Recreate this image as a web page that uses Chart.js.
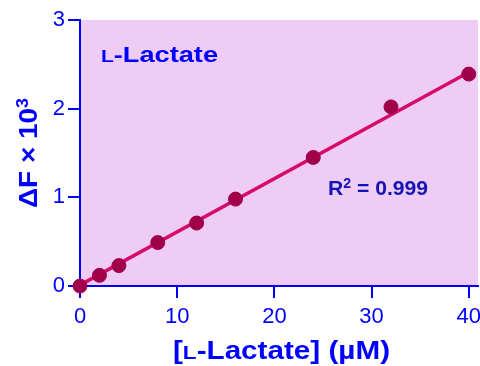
<!DOCTYPE html>
<html>
<head>
<meta charset="utf-8">
<script src="https://cdn.jsdelivr.net/npm/chart.js@4"></script>
<style>
  html, body { margin: 0; padding: 0; background: #fff; }
</style>
</head>
<body>
<canvas id="calib" width="480" height="366"></canvas>
<script>
// L-Lactate standard curve
const concentrations = [0, 2, 4, 8, 12, 16, 24, 32, 40];
const deltaF = [0, 0.12, 0.23, 0.49, 0.71, 0.98, 1.45, 2.02, 2.39];
const fitX = [0, 40];
const fitY = [0.01, 2.41];
const xTicks = [0, 10, 20, 30, 40];
const yTicks = [0, 1, 2, 3];

const blue = '#0000FF';
const font = '"Liberation Sans", Arial, Helvetica, sans-serif';

// draws text made of several runs (small caps L, superscripts), centred on x, baseline y
function drawRich(ctx, parts, x, y, width, angle, color) {
  ctx.save();
  ctx.fillStyle = color;
  ctx.textBaseline = 'alphabetic';
  ctx.textAlign = 'left';
  let natural = 0;
  parts.forEach(p => {
    ctx.font = p.font;
    p.w = ctx.measureText(p.text).width;
    natural += p.w;
  });
  ctx.translate(x, y);
  ctx.rotate(angle);
  ctx.scale(width / natural, 1);
  let cx = -natural / 2;
  parts.forEach(p => {
    ctx.font = p.font;
    ctx.fillText(p.text, cx, -(p.rise || 0));
    cx += p.w;
  });
  ctx.restore();
}

const textPlugin = {
  id: 'textPlugin',
  beforeDraw(chart) {
    const { ctx, chartArea: a } = chart;
    ctx.save();
    ctx.fillStyle = '#EECCF6';
    ctx.fillRect(a.left, a.top, a.right - a.left, a.bottom - a.top);
    ctx.restore();
  },
  afterDraw(chart) {
    const ctx = chart.ctx;
    const b = (s) => 'bold ' + s + 'px ' + font;
    drawRich(ctx, [
      { text: 'L', font: b(17) },
      { text: '-Lactate', font: b(22) }
    ], 159.5, 62, 117, 0, blue);

    drawRich(ctx, [
      { text: '[', font: b(25) },
      { text: 'L', font: b(19) },
      { text: '-Lactate] (\u00B5M)', font: b(25) }
    ], 281.5, 359, 217, 0, blue);

    drawRich(ctx, [
      { text: '\u0394F \u00D7 10', font: b(25) },
      { text: '3', font: b(16), rise: 9 }
    ], 37, 153, 110, -Math.PI / 2, blue);

    drawRich(ctx, [
      { text: 'R', font: b(21) },
      { text: '2', font: b(14), rise: 7 },
      { text: ' = 0.999', font: b(21) }
    ], 378, 195, 100, 0, '#1414B4');
  }
};

const axisCommon = {
  type: 'linear',
  grid: { drawOnChartArea: false, color: blue, lineWidth: 2, tickLength: 12 },
  border: { color: blue, width: 2 },
  ticks: { color: blue, font: { family: font, size: 22 }, padding: 3 }
};

new Chart(document.getElementById('calib'), {
  type: 'scatter',
  data: {
    datasets: [
      {
        label: 'Data',
        data: concentrations.map((c, i) => ({ x: c, y: deltaF[i] })),
        backgroundColor: '#A0004A',
        borderColor: '#A0004A',
        pointRadius: 7,
        pointHoverRadius: 7,
        clip: false,
        order: 0
      },
      {
        label: 'Fit',
        data: fitX.map((c, i) => ({ x: c, y: fitY[i] })),
        showLine: true,
        borderColor: '#D60B68',
        borderWidth: 3.5,
        pointRadius: 0,
        order: 1
      }
    ]
  },
  options: {
    responsive: false,
    devicePixelRatio: 1,
    animation: false,
    layout: { autoPadding: false, padding: { top: 20, right: 2, left: 0, bottom: 0 } },
    plugins: { legend: { display: false }, tooltip: { enabled: false } },
    scales: {
      x: {
        ...axisCommon,
        min: 0,
        max: 40.95,
        ticks: { ...axisCommon.ticks, padding: 6 },
        afterBuildTicks: s => { s.ticks = xTicks.map(v => ({ value: v })); },
        afterFit: s => { s.height = 80; s.paddingLeft = 0; s.paddingRight = 0; }
      },
      y: {
        ...axisCommon,
        min: 0,
        max: 3,
        afterBuildTicks: s => { s.ticks = yTicks.map(v => ({ value: v })); },
        afterFit: s => { s.width = 80; s.paddingTop = 0; s.paddingBottom = 0; }
      }
    }
  },
  plugins: [textPlugin]
});
</script>
</body>
</html>
